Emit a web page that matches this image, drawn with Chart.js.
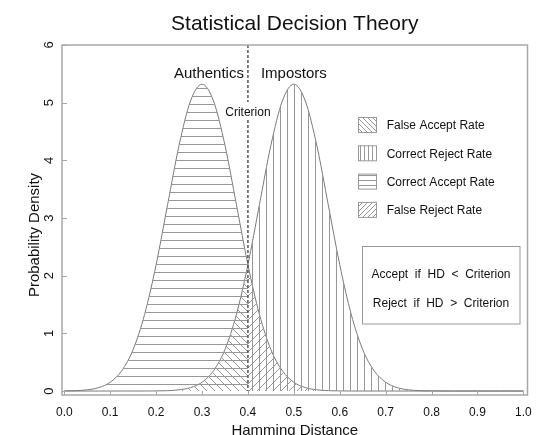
<!DOCTYPE html>
<html>
<head>
<meta charset="utf-8">
<script src="https://cdn.jsdelivr.net/npm/chart.js@4"></script>
<style>
  html, body { margin: 0; padding: 0; background: #fff; }
  #wrap { width: 541px; height: 435px; }
</style>
</head>
<body>
<div id="wrap"><canvas id="chart" width="541" height="435"></canvas></div>
<script>
// values
const hammingDistance = [0, 0.025, 0.05, 0.075, 0.1, 0.125, 0.15, 0.175, 0.2, 0.225, 0.25, 0.275,
  0.3, 0.325, 0.35, 0.375, 0.4, 0.425, 0.45, 0.475, 0.5, 0.525, 0.55, 0.575, 0.6, 0.625, 0.65,
  0.675, 0.7, 0.725, 0.75, 0.775, 0.8, 0.825, 0.85, 0.875, 0.9, 0.925, 0.95, 0.975, 1.0];
const authentics = [0.002, 0.006, 0.021, 0.059, 0.152, 0.35, 0.72, 1.33, 2.19, 3.23, 4.26, 5.03,
  5.32, 5.03, 4.26, 3.23, 2.19, 1.33, 0.72, 0.35, 0.152, 0.059, 0.021, 0.006, 0.002, 0, 0,
  0, 0, 0, 0, 0, 0, 0, 0, 0, 0, 0, 0, 0, 0];
const impostors = [0, 0, 0, 0, 0, 0, 0, 0, 0.002, 0.006, 0.021, 0.059,
  0.152, 0.35, 0.72, 1.33, 2.19, 3.23, 4.26, 5.03, 5.32, 5.03, 4.26, 3.23, 2.19, 1.33, 0.72,
  0.35, 0.152, 0.059, 0.021, 0.006, 0.002, 0, 0, 0, 0, 0, 0, 0, 0];
const criterion = 0.4;
const xTicks = [0, 0.1, 0.2, 0.3, 0.4, 0.5, 0.6, 0.7, 0.8, 0.9, 1.0];
const yTicks = [0, 1, 2, 3, 4, 5, 6];
const legendLabels = ["False Accept Rate", "Correct Reject Rate", "Correct Accept Rate", "False Reject Rate"];
const ruleLines = ["Accept  if  HD  <  Criterion", "Reject  if  HD  >  Criterion"];

const FONT = "'Liberation Sans', Arial, sans-serif";
const HATCH = "#979797";

function hatch(kind, s) {
  const c = document.createElement("canvas");
  c.width = s; c.height = s;
  const g = c.getContext("2d");
  g.strokeStyle = HATCH;
  g.lineWidth = 1;
  g.beginPath();
  if (kind === "h") { g.moveTo(0, 0.5); g.lineTo(s, 0.5); }
  if (kind === "v") { g.moveTo(0.5, 0); g.lineTo(0.5, s); }
  if (kind === "/") {
    g.moveTo(-1, s + 1); g.lineTo(s + 1, -1);
    g.moveTo(-1, 1); g.lineTo(1, -1);
    g.moveTo(s - 1, s + 1); g.lineTo(s + 1, s - 1);
  }
  if (kind === "\\") {
    g.moveTo(-1, -1); g.lineTo(s + 1, s + 1);
    g.moveTo(s - 1, -1); g.lineTo(s + 1, 1);
    g.moveTo(-1, s - 1); g.lineTo(1, s + 1);
  }
  g.stroke();
  return document.getElementById("chart").getContext("2d").createPattern(c, "repeat");
}

const patterns = { h: hatch("h", 8), v: hatch("v", 7), fwd: hatch("/", 8), back: hatch("\\", 8) };
const legendFills = [hatch("\\", 5), hatch("v", 4), hatch("h", 5), hatch("/", 5)];
const cut = hammingDistance.indexOf(criterion);

function points(ys, from, to) {
  return hammingDistance.slice(from, to + 1).map((x, i) => ({ x, y: ys[from + i] }));
}

function area(ys, from, to, pattern) {
  return {
    data: points(ys, from, to),
    fill: "origin",
    backgroundColor: pattern,
    borderWidth: 0,
    pointRadius: 0,
    cubicInterpolationMode: "monotone",
  };
}

function curve(ys) {
  return {
    data: points(ys, 0, hammingDistance.length - 1),
    fill: false,
    borderColor: "#7a7a7a",
    borderWidth: 1,
    pointRadius: 0,
    cubicInterpolationMode: "monotone",
  };
}

const decorations = {
  id: "decorations",
  afterDatasetsDraw(chart) {
    const { ctx, chartArea: a, scales: { x, y } } = chart;
    const cx = x.getPixelForValue(criterion);
    ctx.save();

    // criterion line
    ctx.strokeStyle = "#555";
    ctx.lineWidth = 1.5;
    ctx.setLineDash([3, 2]);
    ctx.beginPath();
    ctx.moveTo(cx, a.top);
    ctx.lineTo(cx, y.getPixelForValue(0));
    ctx.stroke();
    ctx.setLineDash([]);

    // box and ticks
    ctx.strokeStyle = "#a8a8a8";
    ctx.lineWidth = 1.5;
    ctx.strokeRect(a.left, a.top, a.right - a.left, a.bottom - a.top);
    ctx.lineWidth = 1;
    ctx.beginPath();
    yTicks.forEach((v) => {
      const py = Math.round(y.getPixelForValue(v)) + 0.5;
      ctx.moveTo(a.left, py); ctx.lineTo(a.left + 5, py);
    });
    xTicks.forEach((v) => {
      const px = Math.round(x.getPixelForValue(v)) + 0.5;
      ctx.moveTo(px, a.bottom); ctx.lineTo(px, a.bottom - 4);
    });
    ctx.stroke();

    ctx.fillStyle = "#111";
    ctx.font = "12px " + FONT;
    ctx.textAlign = "center";
    ctx.textBaseline = "alphabetic";
    xTicks.forEach((v) => ctx.fillText(v.toFixed(1), x.getPixelForValue(v), 416));
    ctx.font = "13px " + FONT;
    yTicks.forEach((v) => {
      ctx.save();
      ctx.translate(52.5, y.getPixelForValue(v));
      ctx.rotate(-Math.PI / 2);
      ctx.fillText(String(v), 0, 0);
      ctx.restore();
    });

    // titles
    const mid = (a.left + a.right) / 2;
    ctx.font = "21px " + FONT;
    ctx.fillText("Statistical Decision Theory", mid, 29.5);
    ctx.font = "15px " + FONT;
    ctx.fillText("Hamming Distance", mid, 434.5);
    ctx.save();
    ctx.translate(39, 235);
    ctx.rotate(-Math.PI / 2);
    ctx.fillText("Probability Density", 0, 0);
    ctx.restore();

    // curve names
    ctx.textAlign = "right";
    ctx.fillText("Authentics", cx - 4, 78.3);
    ctx.textAlign = "left";
    ctx.fillText("Impostors", cx + 13, 78.3);

    // criterion label
    ctx.font = "12px " + FONT;
    ctx.textAlign = "center";
    const w = ctx.measureText("Criterion").width;
    ctx.fillStyle = "#fff";
    ctx.fillRect(cx - w / 2 - 1, 102, w + 2, 18);
    ctx.fillStyle = "#111";
    ctx.fillText("Criterion", cx, 116);

    // legend
    legendLabels.forEach((label, i) => {
      const cy = 125 + i * 28.3;
      ctx.fillStyle = legendFills[i];
      ctx.fillRect(358.5, cy - 7.5, 18, 15);
      ctx.strokeStyle = "#999";
      ctx.strokeRect(358.5, cy - 7.5, 18, 15);
      ctx.fillStyle = "#111";
      ctx.textAlign = "left";
      ctx.fillText(label, 386.7, cy + 4.3);
    });

    // decision rule box
    ctx.strokeStyle = "#999";
    ctx.strokeRect(362.5, 246.5, 157.5, 77.5);
    ctx.textAlign = "center";
    ruleLines.forEach((t, i) => ctx.fillText(t, 441, 278 + i * 29));

    ctx.restore();
  },
};

new Chart(document.getElementById("chart"), {
  type: "line",
  data: {
    datasets: [
      area(authentics, 0, cut, patterns.h),
      area(authentics, cut, hammingDistance.length - 1, patterns.fwd),
      area(impostors, 0, cut, patterns.back),
      area(impostors, cut, hammingDistance.length - 1, patterns.v),
      curve(authentics),
      curve(impostors),
    ],
  },
  options: {
    responsive: false,
    animation: false,
    devicePixelRatio: 1,
    layout: { padding: { left: 62, top: 45, right: 13.5, bottom: 40 } },
    plugins: { legend: { display: false }, tooltip: { enabled: false } },
    scales: {
      x: { type: "linear", min: -0.005, max: 1.009, display: false },
      y: { min: -0.069, max: 6, display: false },
    },
  },
  plugins: [decorations],
});
</script>
</body>
</html>
